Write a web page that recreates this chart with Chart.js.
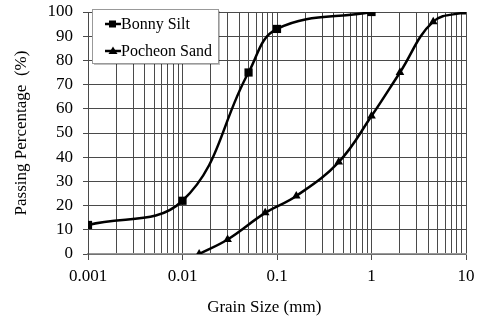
<!DOCTYPE html>
<html>
<head>
<meta charset="utf-8">
<script src="https://cdn.jsdelivr.net/npm/chart.js@4.4.0/dist/chart.umd.min.js"></script>
<style>
  html, body { margin: 0; padding: 0; background: #fff; }
  #wrap { width: 478px; height: 319px; }
</style>
</head>
<body>
<div id="wrap"><canvas id="gsd" width="478" height="319"></canvas></div>
<script>
// Grain size distribution data
const bonnySize = [0.001, 0.01, 0.05, 0.1, 1];
const bonnyPassing = [12, 22, 75, 93, 100];

const pocheonSize = [0.015, 0.03, 0.075, 0.16, 0.45, 1, 2, 4.5, 10];
const pocheonPassing = [0, 6, 17, 24, 38, 57, 75, 96, 100];

const xDecades = [0.001, 0.01, 0.1, 1, 10];
const xTickLabels = ['0.001', '0.01', '0.1', '1', '10'];

const SERIF = '"Liberation Serif", "Times New Roman", serif';
const GRID = '#4a4a4a';

// gridline positions: 1..9 inside every decade, plus the last decade
const xGridValues = [];
xDecades.slice(0, -1).forEach(d => {
    for (let m = 1; m <= 9; m++) xGridValues.push(d * m);
});
xGridValues.push(xDecades[xDecades.length - 1]);

function isDecade(v) {
    return xDecades.findIndex(d => Math.abs(d - v) < d * 1e-6);
}

// Legend box drawn inside the plot area
const insideLegend = {
    id: 'insideLegend',
    afterDraw(chart) {
        const c = chart.ctx;
        const x = 92, y = 9, w = 126, h = 54;
        c.save();
        c.fillStyle = 'rgba(0,0,0,0.25)';
        c.fillRect(x + 2, y + 2, w, h);
        c.fillStyle = '#fff';
        c.fillRect(x, y, w, h);
        c.strokeStyle = '#999';
        c.lineWidth = 1;
        c.strokeRect(x + 0.5, y + 0.5, w, h);

        chart.data.datasets.forEach((ds, i) => {
            const cy = y + 15 + i * 27;
            c.strokeStyle = '#000';
            c.lineWidth = 2.5;
            c.beginPath();
            c.moveTo(x + 13, cy);
            c.lineTo(x + 29, cy);
            c.stroke();
            c.fillStyle = '#000';
            if (ds.pointStyle === 'rect') {
                c.fillRect(x + 17, cy - 3.5, 7, 7);
            } else {
                c.beginPath();
                c.moveTo(x + 21, cy - 4.5);
                c.lineTo(x + 25.5, cy + 3);
                c.lineTo(x + 16.5, cy + 3);
                c.closePath();
                c.fill();
            }
            c.font = '16px ' + SERIF;
            c.textBaseline = 'middle';
            c.textAlign = 'left';
            c.fillText(ds.label, x + 29, cy + 1);
        });
        c.restore();
    }
};

const ctx = document.getElementById('gsd').getContext('2d');

new Chart(ctx, {
    type: 'line',
    data: {
        datasets: [
            {
                label: 'Bonny Silt',
                data: bonnySize.map((s, i) => ({ x: s, y: bonnyPassing[i] })),
                borderColor: '#000',
                backgroundColor: '#000',
                borderWidth: 2.5,
                pointStyle: 'rect',
                pointRadius: 5.8,
                pointBackgroundColor: '#000',
                pointBorderWidth: 0,
                tension: 0.4,
                fill: false
            },
            {
                label: 'Pocheon Sand',
                data: pocheonSize.map((s, i) => ({ x: s, y: pocheonPassing[i] })),
                borderColor: '#000',
                backgroundColor: '#000',
                borderWidth: 2.5,
                pointStyle: 'triangle',
                pointRadius: 5,
                pointBackgroundColor: '#000',
                pointBorderWidth: 0,
                tension: 0.4,
                fill: false
            }
        ]
    },
    options: {
        responsive: false,
        animation: false,
        layout: {
            padding: { top: 12, right: 12, left: 0, bottom: 0 }
        },
        plugins: {
            legend: { display: false },
            tooltip: { enabled: false }
        },
        scales: {
            x: {
                type: 'logarithmic',
                min: 0.001,
                max: 10,
                afterBuildTicks: scale => {
                    scale.ticks = xGridValues.map(v => ({ value: v, major: isDecade(v) >= 0 }));
                },
                afterFit: scale => {
                    scale.height = 65;
                    scale.paddingLeft = 0;
                    scale.paddingRight = 0;
                },
                grid: {
                    color: GRID,
                    lineWidth: 1,
                    tickLength: 6,
                    tickColor: c => (c.tick && c.tick.major) ? GRID : 'rgba(0,0,0,0)'
                },
                border: { color: '#999', width: 1.5 },
                ticks: {
                    autoSkip: false,
                    maxRotation: 0,
                    padding: 6,
                    color: '#000',
                    font: { family: SERIF, size: 17 },
                    callback: (value) => {
                        const i = isDecade(value);
                        return i >= 0 ? xTickLabels[i] : '';
                    }
                },
                title: {
                    display: true,
                    text: 'Grain Size (mm)      ',
                    color: '#000',
                    font: { family: SERIF, size: 17 },
                    padding: { top: 0, bottom: 1 }
                }
            },
            y: {
                min: 0,
                max: 100,
                afterFit: scale => {
                    scale.width = 88;
                    scale.paddingTop = 0;
                    scale.paddingBottom = 0;
                },
                grid: {
                    color: GRID,
                    lineWidth: 1,
                    tickLength: 5
                },
                border: { color: GRID },
                ticks: {
                    stepSize: 10,
                    autoSkip: false,
                    padding: 10,
                    color: '#000',
                    font: { family: SERIF, size: 17 }
                },
                title: {
                    display: true,
                    text: 'Passing Percentage  (%)',
                    color: '#000',
                    font: { family: SERIF, size: 17 },
                    padding: { top: 11, bottom: 0 }
                }
            }
        }
    },
    plugins: [insideLegend]
});
</script>
</body>
</html>
